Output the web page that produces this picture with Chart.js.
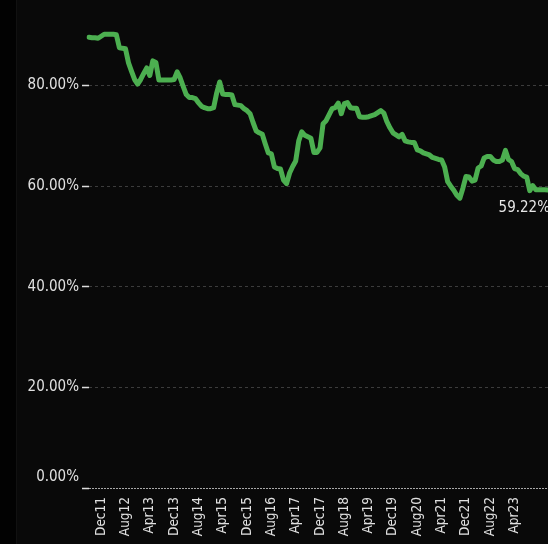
<!DOCTYPE html>
<html>
<head>
<meta charset="utf-8">
<script src="https://cdn.jsdelivr.net/npm/chart.js@4.4.0/dist/chart.umd.min.js"></script>
<style>
    html, body { margin: 0; padding: 0; background: #090909; overflow: hidden; }
    #strip { position: absolute; left: 0; top: 0; width: 16px; height: 544px; background: #020202; border-right: 1px solid #111; }
    #chart { position: absolute; left: 0; top: 0; }
</style>
</head>
<body>
<div id="strip"></div>
<canvas id="chart" width="548" height="544"></canvas>
<script>
    // monthly points, Aug 2011 .. Mar 2024
    const months = [
        "Aug11", "Sep11", "Oct11", "Nov11", "Dec11",
        "Jan12", "Feb12", "Mar12", "Apr12", "May12", "Jun12", "Jul12", "Aug12", "Sep12", "Oct12", "Nov12", "Dec12",
        "Jan13", "Feb13", "Mar13", "Apr13", "May13", "Jun13", "Jul13", "Aug13", "Sep13", "Oct13", "Nov13", "Dec13",
        "Jan14", "Feb14", "Mar14", "Apr14", "May14", "Jun14", "Jul14", "Aug14", "Sep14", "Oct14", "Nov14", "Dec14",
        "Jan15", "Feb15", "Mar15", "Apr15", "May15", "Jun15", "Jul15", "Aug15", "Sep15", "Oct15", "Nov15", "Dec15",
        "Jan16", "Feb16", "Mar16", "Apr16", "May16", "Jun16", "Jul16", "Aug16", "Sep16", "Oct16", "Nov16", "Dec16",
        "Jan17", "Feb17", "Mar17", "Apr17", "May17", "Jun17", "Jul17", "Aug17", "Sep17", "Oct17", "Nov17", "Dec17",
        "Jan18", "Feb18", "Mar18", "Apr18", "May18", "Jun18", "Jul18", "Aug18", "Sep18", "Oct18", "Nov18", "Dec18",
        "Jan19", "Feb19", "Mar19", "Apr19", "May19", "Jun19", "Jul19", "Aug19", "Sep19", "Oct19", "Nov19", "Dec19",
        "Jan20", "Feb20", "Mar20", "Apr20", "May20", "Jun20", "Jul20", "Aug20", "Sep20", "Oct20", "Nov20", "Dec20",
        "Jan21", "Feb21", "Mar21", "Apr21", "May21", "Jun21", "Jul21", "Aug21", "Sep21", "Oct21", "Nov21", "Dec21",
        "Jan22", "Feb22", "Mar22", "Apr22", "May22", "Jun22", "Jul22", "Aug22", "Sep22", "Oct22", "Nov22", "Dec22",
        "Jan23", "Feb23", "Mar23", "Apr23", "May23", "Jun23", "Jul23", "Aug23", "Sep23", "Oct23", "Nov23", "Dec23",
        "Jan24", "Feb24", "Mar24"
    ];

    const shownLabels = ["Dec11", "Aug12", "Apr13", "Dec13", "Aug14", "Apr15", "Dec15", "Aug16", "Apr17",
        "Dec17", "Aug18", "Apr19", "Dec19", "Aug20", "Apr21", "Dec21", "Aug22", "Apr23"];

    const share = [
        89.6, 89.5, 89.5, 89.4, 89.8,
        90.2, 90.2, 90.2, 90.2, 90.1, 87.5, 87.4, 87.3, 84.5, 82.8, 81.2, 80.3,
        81.2, 82.4, 83.5, 82.0, 84.9, 84.6, 81.1, 81.1, 81.1, 81.1, 81.1, 81.2,
        82.7, 81.5, 79.8, 78.2, 77.6, 77.6, 77.4, 76.6, 75.9, 75.6, 75.4, 75.4,
        75.6, 78.5, 80.7, 78.3, 78.2, 78.2, 78.1, 76.2, 76.1, 76.0, 75.4, 75.0,
        74.4, 72.6, 71.0, 70.6, 70.3, 68.4, 66.6, 66.4, 63.8, 63.5, 63.4, 61.2,
        60.5, 62.6, 63.9, 65.0, 69.0, 70.8, 70.1, 69.8, 69.5, 66.7, 66.7, 67.6,
        72.4, 73.0, 74.2, 75.4, 75.6, 76.5, 74.4, 76.4, 76.6, 75.6, 75.5, 75.5,
        73.8, 73.7, 73.7, 73.8, 74.0, 74.2, 74.6, 75.0, 74.5, 72.8, 71.6, 70.6,
        70.2, 69.8, 70.3, 69.0, 68.8, 68.7, 68.7, 67.2, 67.0, 66.6, 66.4, 66.2,
        65.7, 65.5, 65.3, 65.2, 63.8, 60.9, 60.0, 59.2, 58.2, 57.6, 59.6, 61.9,
        61.8, 61.0, 61.2, 63.6, 64.0, 65.6, 65.9, 65.9, 65.2, 64.9, 64.9, 65.2,
        67.1, 65.3, 64.9, 63.5, 63.3, 62.5, 62.0, 61.8, 59.1, 60.1, 59.3, 59.3,
        59.3, 59.3, 59.22
    ];

    const yTicks = [0, 20, 40, 60, 80];

    const font = "'DejaVu Sans Condensed', 'DejaVu Sans', sans-serif";

    // writes the last value under the end of the line
    const lastValueLabel = {
        id: "lastValueLabel",
        afterDatasetsDraw(chart) {
            const meta = chart.getDatasetMeta(0);
            const pt = meta.data[meta.data.length - 1];
            const ctx = chart.ctx;
            ctx.save();
            ctx.font = "15px " + font;
            ctx.fillStyle = "#e6e6e6";
            ctx.textAlign = "right";
            ctx.textBaseline = "middle";
            ctx.fillText(share[share.length - 1].toFixed(2) + "%", pt.x + 2, pt.y + 18);
            ctx.restore();
        }
    };

    new Chart(document.getElementById("chart"), {
        type: "line",
        data: {
            labels: months,
            datasets: [{
                data: share,
                borderColor: "#4caf50",
                borderWidth: 5,
                borderJoinStyle: "round",
                borderCapStyle: "round",
                pointRadius: 0,
                tension: 0
            }]
        },
        options: {
            responsive: false,
            animation: false,
            layout: { padding: 0 },
            plugins: {
                legend: { display: false },
                tooltip: { enabled: false }
            },
            scales: {
                x: {
                    grid: { display: false, drawTicks: false },
                    border: { display: false },
                    ticks: {
                        autoSkip: false,
                        maxRotation: 90,
                        minRotation: 90,
                        padding: 9,
                        color: "#e0e0e0",
                        font: { family: font, size: 13.5 },
                        callback: function (value, index) {
                            const m = months[index];
                            return shownLabels.includes(m) ? m : "";
                        }
                    },
                    afterFit: scale => {
                        scale.height = 56;
                        scale.paddingLeft = 0;
                        scale.paddingRight = 0;
                    }
                },
                y: {
                    min: 0,
                    max: 97,
                    border: {
                        display: false,
                        dash: c => (c.tick && c.tick.value === 0 ? [2, 1] : [3, 3])
                    },
                    grid: {
                        color: c => (c.tick && c.tick.value === 0 ? "#a8a8a8" : "#3c3c3c"),
                        tickColor: "#dddddd",
                        tickLength: 7,
                        tickWidth: 1.5,
                        tickBorderDash: [1, 0]
                    },
                    ticks: {
                        stepSize: 20,
                        padding: 3,
                        color: "#e0e0e0",
                        font: { family: font, size: 15, lineHeight: 1.5 },
                        callback: value => value === 0 ? ["0.00%", ""] : value.toFixed(2) + "%"
                    },
                    afterBuildTicks: scale => {
                        scale.ticks = scale.ticks.filter(t => yTicks.includes(t.value));
                    },
                    afterFit: scale => {
                        scale.width = 89;
                        scale.paddingTop = 0;
                        scale.paddingBottom = 0;
                    }
                }
            }
        },
        plugins: [lastValueLabel]
    });
</script>
</body>
</html>
